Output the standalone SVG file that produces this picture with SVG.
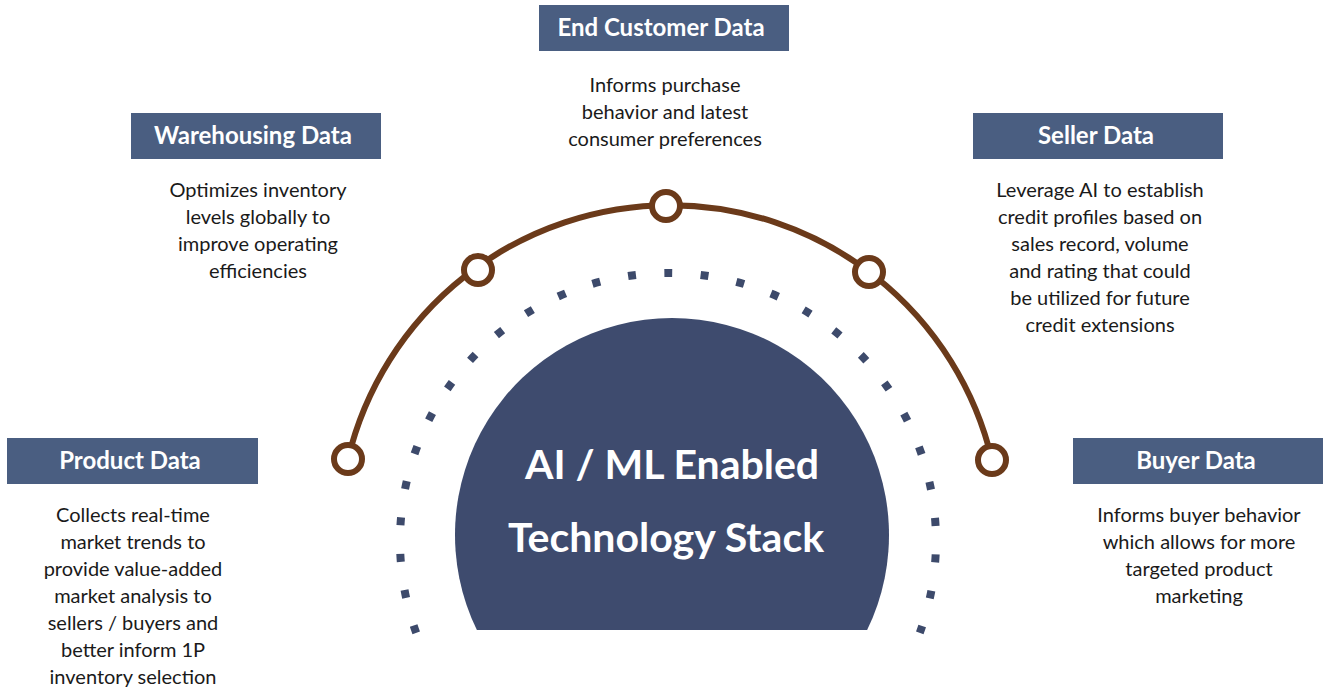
<svg xmlns="http://www.w3.org/2000/svg" width="1323" height="692" viewBox="0 0 1323 692">
<style>
.hdr{fill:#4a5e81}
.ht{font-family:Lato,"Open Sans",sans-serif;font-weight:bold;font-size:24px;fill:#ffffff;text-anchor:middle}
.bt{font-family:Lato,"Open Sans",sans-serif;font-size:20px;fill:#1a1a1a;text-anchor:middle}
.ct{font-family:Lato,"Open Sans",sans-serif;font-weight:bold;font-size:41px;fill:#ffffff;text-anchor:middle}
.node{fill:#ffffff;stroke:#6b3a1a;stroke-width:6}
</style>
<rect width="1323" height="692" fill="#ffffff"/>
<g id="connectors">
<path d="M348,459 A331,331 0 0 1 992,460" fill="none" stroke="#6b3a1a" stroke-width="6"/>
<path d="M416.22,632.81 A268,268 0 1 1 919.78,632.81" fill="none" stroke="#3d4a6b" stroke-width="8" stroke-dasharray="8 28.48"/>
</g>
<g id="core">
<path d="M476.9,630 A217,217 0 1 1 867.1,630 Z" fill="#3e4b6e"/>
<text class="ct" x="672" y="479">AI / ML Enabled</text>
<text class="ct" x="666" y="552">Technology Stack</text>
</g>
<g id="points">
<circle class="node" cx="348" cy="459" r="14"/>
<circle class="node" cx="478" cy="270" r="14"/>
<circle class="node" cx="666" cy="206" r="14"/>
<circle class="node" cx="869" cy="272" r="14"/>
<circle class="node" cx="992" cy="460" r="14"/>
</g>
<g id="end-customer">
<rect class="hdr" x="539" y="5" width="250" height="46"/>
<text class="ht" x="661" y="36">End Customer Data</text>
<text class="bt" x="665" y="92">Informs purchase</text>
<text class="bt" x="665" y="119">behavior and latest</text>
<text class="bt" x="665" y="146">consumer preferences</text>
</g>
<g id="warehousing">
<rect class="hdr" x="131" y="113" width="250" height="46"/>
<text class="ht" x="253" y="144">Warehousing Data</text>
<text class="bt" x="258" y="197">Optimizes inventory</text>
<text class="bt" x="258" y="224">levels globally to</text>
<text class="bt" x="258" y="251">improve operating</text>
<text class="bt" x="258" y="278">efficiencies</text>
</g>
<g id="seller">
<rect class="hdr" x="973" y="113" width="250" height="46"/>
<text class="ht" x="1096" y="144">Seller Data</text>
<text class="bt" x="1100" y="197">Leverage AI to establish</text>
<text class="bt" x="1100" y="224">credit profiles based on</text>
<text class="bt" x="1100" y="251">sales record, volume</text>
<text class="bt" x="1100" y="278">and rating that could</text>
<text class="bt" x="1100" y="305">be utilized for future</text>
<text class="bt" x="1100" y="332">credit extensions</text>
</g>
<g id="product">
<rect class="hdr" x="7" y="438" width="251" height="46"/>
<text class="ht" x="130" y="469">Product Data</text>
<text class="bt" x="133" y="522">Collects real-time</text>
<text class="bt" x="133" y="549">market trends to</text>
<text class="bt" x="133" y="576">provide value-added</text>
<text class="bt" x="133" y="603">market analysis to</text>
<text class="bt" x="133" y="630">sellers / buyers and</text>
<text class="bt" x="133" y="657">better inform 1P</text>
<text class="bt" x="133" y="684">inventory selection</text>
</g>
<g id="buyer">
<rect class="hdr" x="1073" y="438" width="250" height="46"/>
<text class="ht" x="1196" y="469">Buyer Data</text>
<text class="bt" x="1199" y="522">Informs buyer behavior</text>
<text class="bt" x="1199" y="549">which allows for more</text>
<text class="bt" x="1199" y="576">targeted product</text>
<text class="bt" x="1199" y="603">marketing</text>
</g>
</svg>
